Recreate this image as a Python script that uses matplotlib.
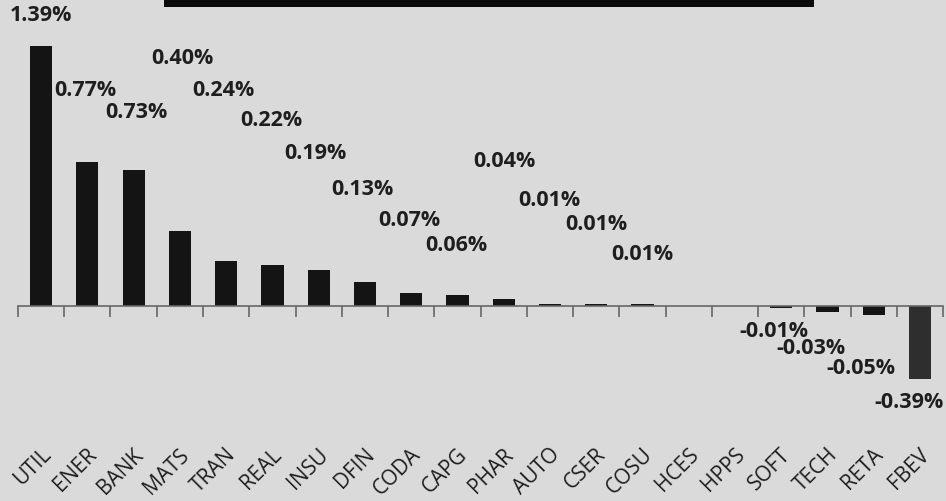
import matplotlib.pyplot as plt
import matplotlib.patches as patches
import numpy as np

# sector returns, %
sectors = ['UTIL', 'ENER', 'BANK', 'MATS', 'TRAN', 'REAL', 'INSU', 'DFIN', 'CODA', 'CAPG',
           'PHAR', 'AUTO', 'CSER', 'COSU', 'HCES', 'HPPS', 'SOFT', 'TECH', 'RETA', 'FBEV']
returns = [1.39, 0.77, 0.73, 0.40, 0.24, 0.22, 0.19, 0.13, 0.07, 0.06,
           0.04, 0.01, 0.01, 0.01, 0.00, 0.00, -0.01, -0.03, -0.05, -0.39]

# where each value label sits (x shift in bar units, y in data units); None = no label
label_pos = [(0.0, 1.56), (-0.05, 1.16), (0.05, 1.04), (0.05, 1.33), (-0.05, 1.16),
             (-0.02, 1.00), (-0.08, 0.82), (-0.06, 0.63), (-0.04, 0.46), (-0.02, 0.33),
             (0.02, 0.78), (-0.02, 0.57), (0.0, 0.44), (0.0, 0.28), None, None,
             (-0.15, -0.13), (-0.35, -0.22), (-0.28, -0.33), (-0.24, -0.51)]

bg = '#dadada'
fig = plt.figure(figsize=(9.46, 5.02), dpi=100, facecolor=bg)
ax = fig.add_axes([0.019, 0.0, 0.978, 1.0])
ax.set_facecolor(bg)

x = np.arange(len(sectors))
colors = ['#141414'] * (len(sectors) - 1) + ['#2e2e2e']
ax.bar(x, returns, width=0.48, color=colors, zorder=2)

for i, v in enumerate(returns):
    if label_pos[i] is None:
        continue
    dx, ly = label_pos[i]
    ax.text(i + dx, ly, '{:.2f}%'.format(v), ha='center', va='center',
            fontsize=15.5, fontweight='bold', family='Open Sans', color='#1e1e1e')

# category labels along the bottom
for i, s in enumerate(sectors):
    ax.text(i - 0.02, -0.735, s, rotation=45, ha='right', va='top', rotation_mode='anchor',
            fontsize=15, family='Open Sans', color='#1e1e1e')

ax.set_xlim(-0.5, len(sectors) - 0.5)
ax.set_ylim(-1.043, 1.642)

for side in ['top', 'right', 'left']:
    ax.spines[side].set_visible(False)
ax.spines['bottom'].set_position(('data', 0))
ax.spines['bottom'].set_color('#666666')
ax.spines['bottom'].set_linewidth(1.2)
ax.set_xticks(np.arange(-0.5, len(sectors), 1.0))
ax.set_xticklabels([])
ax.tick_params(axis='x', direction='out', length=8, width=1.2, color='#666666')
ax.set_yticks([])

# title box clipped at the top edge
fig.patches.append(patches.Rectangle((164 / 946, 1 - 8 / 502), 650 / 946, 8 / 502,
                                     transform=fig.transFigure, facecolor='#0a0a0a',
                                     edgecolor='none'))

fig.savefig('out.png', dpi=100, facecolor=bg)
